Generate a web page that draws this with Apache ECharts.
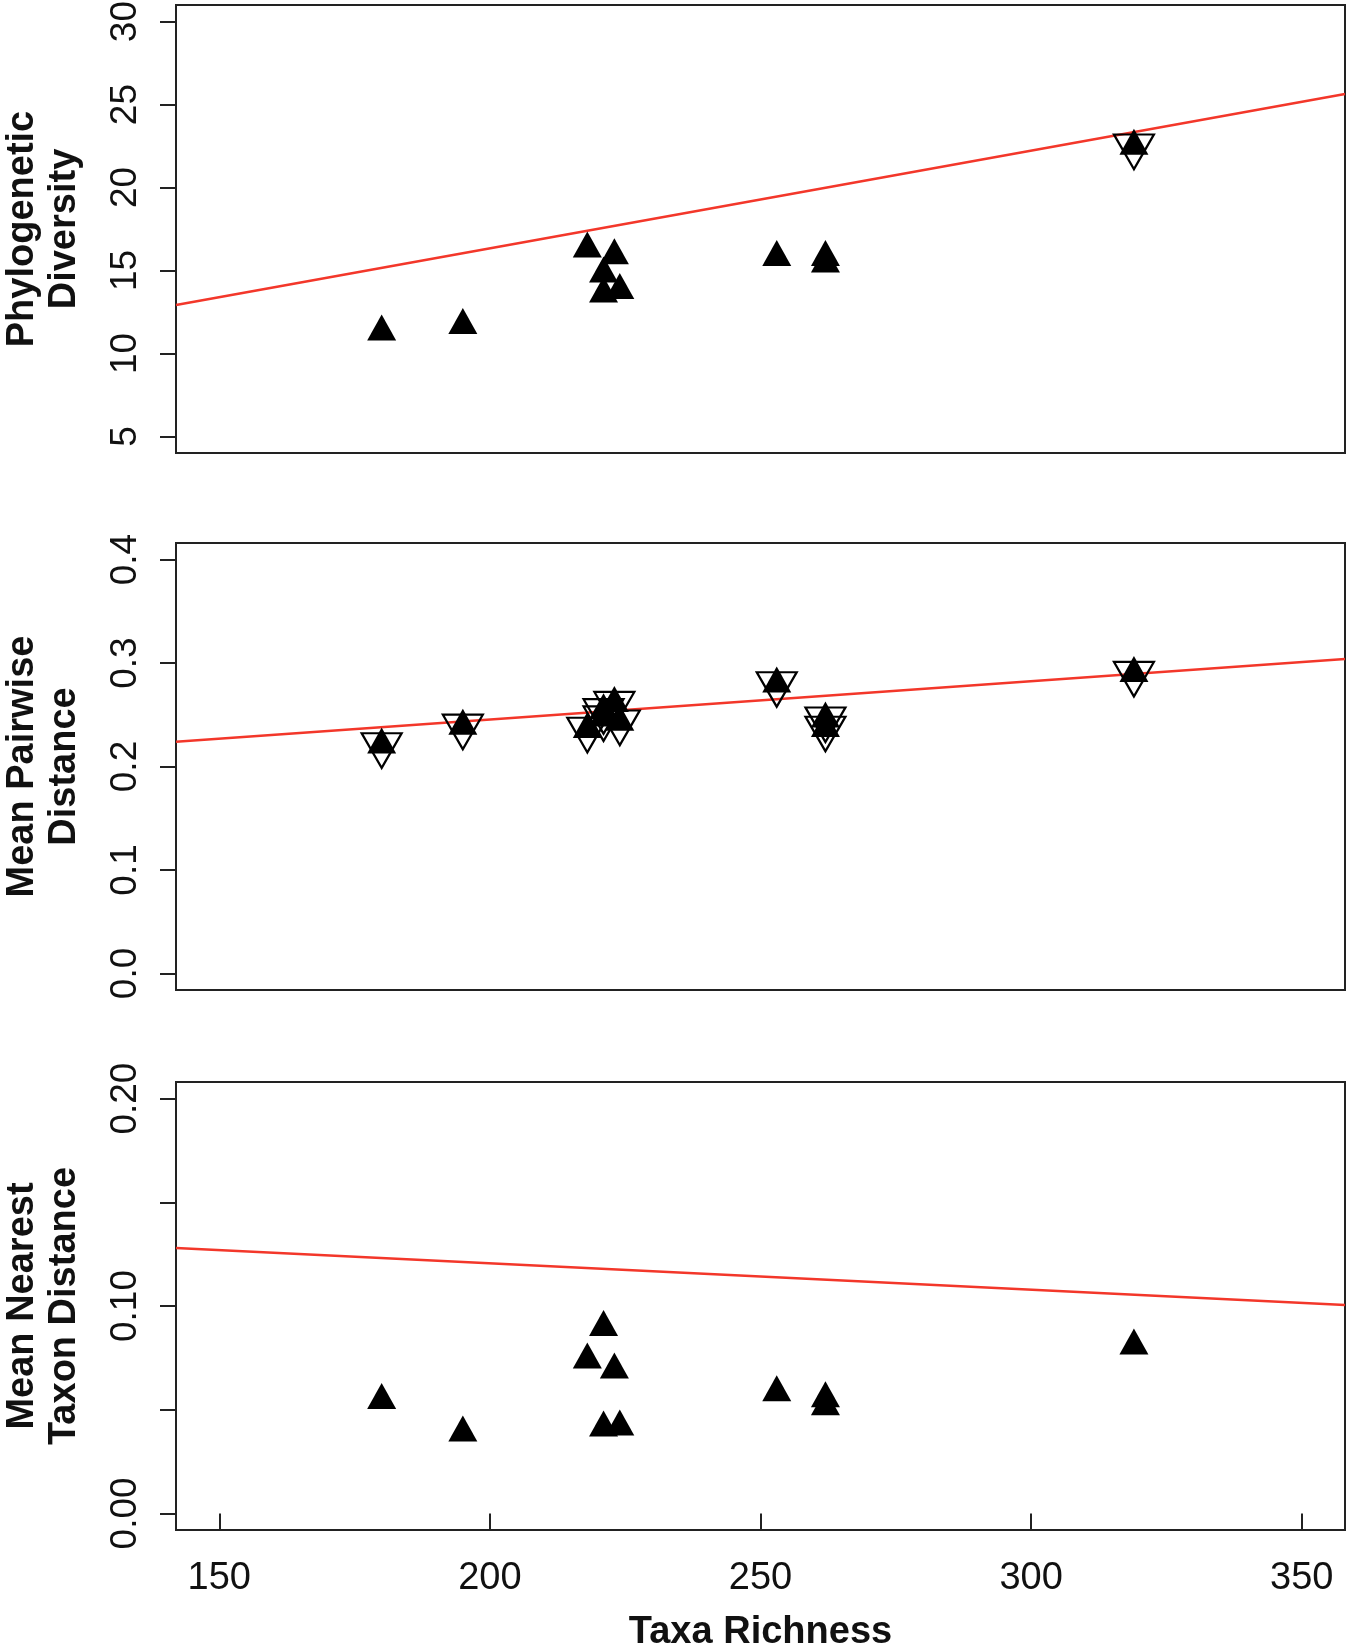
<!DOCTYPE html>
<html>
<head>
<meta charset="utf-8">
<script src="https://cdn.jsdelivr.net/npm/echarts@6/dist/echarts.min.js"></script>
<style>
  html, body { margin: 0; padding: 0; background: #fff; }
  #main { width: 1350px; height: 1650px; }
</style>
</head>
<body>
<div id="main"></div>
<script>
// x values: taxa richness of each sample
var richness = [180, 195, 218, 221, 221, 223, 224, 253, 262, 262, 319];
// observed values (filled up triangles)
var pdValues = [11.3, 11.7, 16.3, 13.6, 14.8, 15.9, 13.8, 15.8, 15.8, 15.4, 22.5];
var mpdValues = [0.221, 0.239, 0.236, 0.247, 0.254, 0.261, 0.243, 0.280, 0.246, 0.237, 0.290];
var mntdValues = [0.0545, 0.0389, 0.0741, 0.0897, 0.0413, 0.0692, 0.0418, 0.0583, 0.0554, 0.0515, 0.0808];
// open down triangles
var pdOpenX = [319];
var pdOpen = [22.5];
var mpdOpenX = richness;
var mpdOpen = mpdValues;
// fitted lines, read at both plot edges
var fitX = [142, 358];
var pdFit = [12.92, 25.64];
var mpdFit = [0.224, 0.304];
var mntdFit = [0.128, 0.1005];
// ticks
var xTicks = [150, 200, 250, 300, 350];
var pdTicks = [5, 10, 15, 20, 25, 30];
var mpdTicks = [0, 0.1, 0.2, 0.3, 0.4];
var mntdTicks = [0, 0.05, 0.1, 0.15, 0.2];
var mntdLabels = [0, 0.1, 0.2];

var FONT = '"Liberation Sans", Arial, Helvetica, sans-serif';
var INK = '#222';

function pairs(xs, ys) {
  var out = [];
  for (var i = 0; i < xs.length; i++) out.push([xs[i], ys[i]]);
  return out;
}

function xAxisFor(idx, showLabels) {
  return {
    type: 'value', gridIndex: idx, min: 142, max: 358,
    axisLine: { show: false },
    splitLine: { show: false },
    axisTick: { show: showLabels, length: 16, customValues: xTicks, lineStyle: { color: INK, width: 2 } },
    axisLabel: { show: showLabels, customValues: xTicks, margin: 30, color: '#111', fontSize: 38, fontFamily: FONT },
    name: showLabels ? 'Taxa Richness' : '',
    nameLocation: 'middle', nameGap: 84,
    nameTextStyle: { fontSize: 38, fontWeight: 'bold', color: '#111', fontFamily: FONT }
  };
}

function yAxisFor(idx, min, max, ticks, labels, fmt, title) {
  return {
    type: 'value', gridIndex: idx, min: min, max: max,
    axisLine: { show: false },
    splitLine: { show: false },
    axisTick: { show: true, length: 16, customValues: ticks, lineStyle: { color: INK, width: 2 } },
    axisLabel: { customValues: labels, rotate: 90, margin: 32, color: '#111', fontSize: 37, fontFamily: FONT, formatter: fmt },
    name: title, nameLocation: 'middle', nameRotate: 90, nameGap: 90,
    nameTextStyle: { fontSize: 38, lineHeight: 42, fontWeight: 'bold', color: '#111', fontFamily: FONT, align: 'center' }
  };
}

function fitSeries(idx, ys) {
  return {
    type: 'line', xAxisIndex: idx, yAxisIndex: idx, data: pairs(fitX, ys),
    symbol: 'none', z: 1, silent: true,
    lineStyle: { color: '#f3372a', width: 2.5 }
  };
}

function filledSeries(idx, xs, ys) {
  return {
    type: 'scatter', xAxisIndex: idx, yAxisIndex: idx, data: pairs(xs, ys),
    symbol: 'triangle', symbolSize: [29, 26], symbolOffset: [0, -4.3], z: 3,
    itemStyle: { color: '#000', opacity: 1 }
  };
}

function openSeries(idx, xs, ys) {
  return {
    type: 'scatter', xAxisIndex: idx, yAxisIndex: idx, data: pairs(xs, ys),
    symbol: 'triangle', symbolRotate: 180, symbolSize: [40, 34.6], symbolOffset: [0, 5.8], z: 2,
    itemStyle: { color: 'rgba(0,0,0,0)', borderColor: '#000', borderWidth: 2.2, opacity: 1 }
  };
}

var gridBase = {
  left: 176, right: 5, outerBoundsMode: 'none', containLabel: false,
  show: true, borderColor: INK, borderWidth: 2, backgroundColor: 'transparent'
};

var option = {
  animation: false,
  backgroundColor: '#fff',
  grid: [
    Object.assign({ top: 5, height: 448 }, gridBase),
    Object.assign({ top: 543, height: 447 }, gridBase),
    Object.assign({ top: 1082, height: 448 }, gridBase)
  ],
  xAxis: [xAxisFor(0, false), xAxisFor(1, false), xAxisFor(2, true)],
  yAxis: [
    yAxisFor(0, 4, 31, pdTicks, pdTicks, function (v) { return String(v); }, 'Phylogenetic\nDiversity'),
    yAxisFor(1, -0.016, 0.416, mpdTicks, mpdTicks, function (v) { return v.toFixed(1); }, 'Mean Pairwise\nDistance'),
    yAxisFor(2, -0.008, 0.208, mntdTicks, mntdLabels, function (v) { return v.toFixed(2); }, 'Mean Nearest\nTaxon Distance')
  ],
  series: [
    fitSeries(0, pdFit),
    openSeries(0, pdOpenX, pdOpen),
    filledSeries(0, richness, pdValues),
    fitSeries(1, mpdFit),
    openSeries(1, mpdOpenX, mpdOpen),
    filledSeries(1, richness, mpdValues),
    fitSeries(2, mntdFit),
    filledSeries(2, richness, mntdValues)
  ]
};

var myChart = echarts.init(document.getElementById('main'));
myChart.setOption(option);
</script>
</body>
</html>
